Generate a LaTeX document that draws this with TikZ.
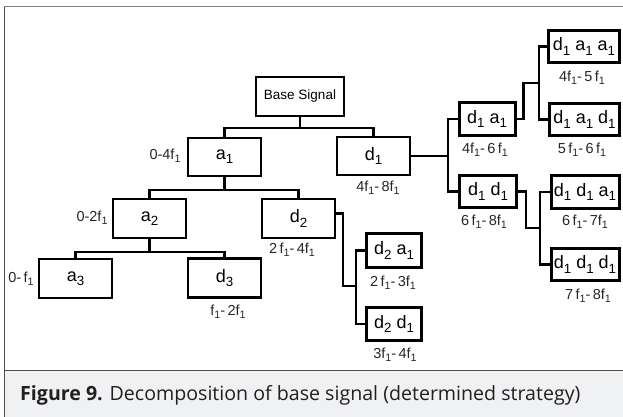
\documentclass[tikz,border=0pt]{standalone}
\usepackage{fontspec}
\setmainfont{Liberation Sans}
\newfontfamily\capfont{Open Sans}
\definecolor{capbg}{HTML}{F0F1F3}
\definecolor{captxt}{HTML}{231F20}
\definecolor{framegray}{HTML}{808080}
\newcommand{\lo}[1]{\raisebox{-0.45ex}{\fontsize{0.74em}{1em}\selectfont #1}}
\begin{document}
\begin{tikzpicture}[x=1pt,y=-1pt,
  boxl/.style={draw, line width=2.2pt, inner sep=0pt, font=\fontsize{18}{20}\selectfont},
  boxr/.style={draw, line width=3pt, inner sep=0pt, font=\fontsize{18}{20}\selectfont},
  conn/.style={line width=2.2pt},
  connr/.style={line width=2.6pt},
  lab/.style={inner sep=0pt, font=\fontsize{14.5}{16}\selectfont, text=black!85}]
\useasboundingbox (0,0) rectangle (623,417);
% frame and caption band
\fill[capbg] (4,370) rectangle (623,417);
\draw[framegray, line width=1pt] (4,7) -- (623,7);
\draw[black!70, line width=1pt] (4,7) -- (4,417);
\draw[black!70, line width=1pt] (4,370) -- (623,370);
\node[anchor=base west, inner sep=0pt, text=captxt, font=\capfont\fontsize{19.6}{21}\selectfont] (cap) at (20,400) {\textbf{Figure 9.} Decomposition of base signal (determined strategy)};

% nodes
\node[draw, line width=2pt, inner sep=0pt, minimum width=88pt, minimum height=39pt, font=\fontsize{13.5}{16}\selectfont] (base) at (300,96.5) {Base Signal};
\node[boxl, minimum width=73pt, minimum height=38pt] (a1) at (224.5,157) {a\lo{1}};
\node[boxl, minimum width=73pt, minimum height=38pt] (d1) at (373.5,156) {d\lo{1}};
\node[boxl, minimum width=73pt, minimum height=39pt] (a2) at (149.5,218.5) {a\lo{2}};
\node[boxl, minimum width=73pt, minimum height=39pt] (d2) at (298.5,218.5) {d\lo{2}};
\node[boxl, minimum width=73pt, minimum height=39pt] (a3) at (75.5,278.5) {a\lo{3}};
\node[boxl, minimum width=73pt, minimum height=39pt] (d3) at (224.5,278) {d\lo{3}};
\node[boxr, minimum width=55pt, minimum height=34pt] (d2a1) at (394,250.5) {d\lo{2} a\lo{1}};
\node[boxr, minimum width=55pt, minimum height=33pt] (d2d1) at (394,324) {d\lo{2} d\lo{1}};
\node[boxr, minimum width=56pt, minimum height=33pt] (d1a1) at (487,119) {d\lo{1} a\lo{1}};
\node[boxr, minimum width=57pt, minimum height=32pt] (d1d1) at (488,191.5) {d\lo{1} d\lo{1}};
\node[boxr, minimum width=71pt, minimum height=32pt] (d1a1a1) at (584,46.5) {d\lo{1} a\lo{1} a\lo{1}};
\node[boxr, minimum width=70pt, minimum height=32pt] (d1a1d1) at (584.5,119.5) {d\lo{1} a\lo{1} d\lo{1}};
\node[boxr, minimum width=68pt, minimum height=33pt] (d1d1a1) at (585,192) {d\lo{1} d\lo{1} a\lo{1}};
\node[boxr, minimum width=68pt, minimum height=32pt] (d1d1d1) at (585,264.5) {d\lo{1} d\lo{1} d\lo{1}};

% labels
\node[lab] (l0) at (165,156) {0-4f\lo{1}};
\node[lab] (l1) at (378,188) {4f\lo{1}-\,8f\lo{1}};
\node[lab] (l2) at (92,218) {0-2f\lo{1}};
\node[lab] (l3) at (292,250) {2\,f\lo{1}-\,4f\lo{1}};
\node[lab] (l4) at (21,279) {0-\,f\lo{1}};
\node[lab] (l5) at (228,312) {f\lo{1}-\,2f\lo{1}};
\node[lab] (l6) at (393,283) {2\,f\lo{1}-\,3f\lo{1}};
\node[lab] (l7) at (395,355) {3f\lo{1}-\,4f\lo{1}};
\node[lab] (l8) at (485,150) {4f\lo{1}-\,6\,f\lo{1}};
\node[lab] (l9) at (484,222) {6\,f\lo{1}-\,8f\lo{1}};
\node[lab] (l10) at (582,78) {4f\lo{1}-\,5\,f\lo{1}};
\node[lab] (l11) at (582,150) {5\,f\lo{1}-\,6\,f\lo{1}};
\node[lab] (l12) at (585,222) {6\,f\lo{1}-\,7f\lo{1}};
\node[lab] (l13) at (588,296) {7\,f\lo{1}-\,8f\lo{1}};

% junctions
\coordinate (j0) at (300,128);
\coordinate (j1) at (224.5,190);
\coordinate (j2) at (149.5,252);
\coordinate (k1) at (448,156);
\coordinate (k2) at (356,286);
\coordinate (k3) at (539,83);
\coordinate (k4) at (540,228);

% connectors
\draw[conn] (base.south) -- (j0);
\draw[conn] (a1.north) |- (j0) -| (d1.north);
\draw[conn] (a1.south) -- (j1);
\draw[conn] (a2.north) |- (j1) -| (d2.north);
\draw[conn] (a2.south) -- (j2);
\draw[conn] (a3.north) |- (j2) -| (d3.north);

\draw[connr] ([yshift=5pt]d2.east) -- ++(7,0) |- (k2);
\draw[connr] (d2a1.west) -| (k2) |- (d2d1.west);

\draw[connr] (d1.east) -- (k1);
\draw[connr] (d1a1.west) -| (k1) |- (d1d1.west);

\draw[connr] (d1a1.east) -- ++(7,0) |- (k3);
\draw[connr] (d1a1a1.west) -| (k3) |- (d1a1d1.west);

\draw[connr] (d1d1.east) -- ++(8,0) |- (k4);
\draw[connr] (d1d1a1.west) -| (k4) |- (d1d1d1.west);
\end{tikzpicture}
\end{document}
